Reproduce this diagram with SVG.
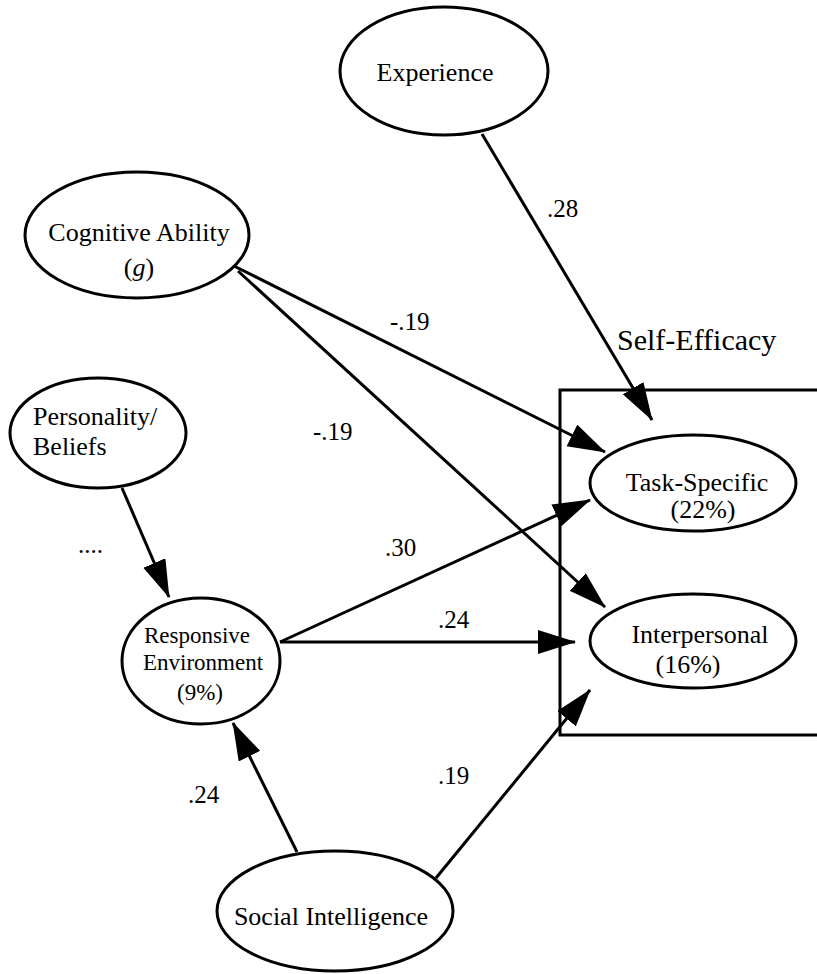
<svg xmlns="http://www.w3.org/2000/svg" width="817" height="974" viewBox="0 0 817 974">
  <style>
    .node { fill: #fff; stroke: #000; stroke-width: 3; }
    .box { fill: none; stroke: #000; stroke-width: 3; }
    .t { font-family: "Liberation Serif", "Times New Roman", serif; fill: #000; }
    .lbl { font-size: 26px; text-anchor: middle; }
    .sm { font-size: 23px; text-anchor: middle; }
    .coef { font-family: "Liberation Serif", "Times New Roman", serif; font-size: 25px; fill: #000; }
    .edge { stroke: #000; stroke-width: 3; fill: none; marker-end: url(#head); }
  </style>
  <defs>
    <marker id="head" markerUnits="userSpaceOnUse" markerWidth="40" markerHeight="26" refX="37" refY="12" orient="auto">
      <path d="M0,0 L38,12 L0,24 Z" fill="#000"/>
    </marker>
  </defs>

  <rect width="817" height="974" fill="#fff"/>

  <!-- Self-Efficacy grouping box -->
  <g id="self-efficacy">
    <rect class="box" x="560" y="390" width="270" height="345"/>
    <text class="t" x="617" y="350" font-size="30">Self-Efficacy</text>
  </g>

  <!-- connectors -->
  <g id="connectors">
    <line class="edge" x1="482" y1="134" x2="652" y2="420"/>
    <line class="edge" x1="234" y1="266" x2="605" y2="452"/>
    <line class="edge" x1="238" y1="271" x2="605" y2="607"/>
    <line class="edge" x1="122" y1="488" x2="169" y2="597"/>
    <line class="edge" x1="280" y1="642" x2="590" y2="500"/>
    <line class="edge" x1="280" y1="642" x2="575" y2="642"/>
    <line class="edge" x1="297" y1="852" x2="233" y2="723"/>
    <line class="edge" x1="436" y1="878" x2="590" y2="690"/>

    <text class="coef" x="547" y="217">.28</text>
    <text class="coef" x="390" y="330">-.19</text>
    <text class="coef" x="313" y="440">-.19</text>
    <text class="coef" x="385" y="556">.30</text>
    <text class="coef" x="438" y="628">.24</text>
    <text class="coef" x="438" y="784">.19</text>
    <text class="coef" x="188" y="803">.24</text>
    <text class="coef" x="78" y="553">....</text>
  </g>

  <g id="experience">
    <ellipse class="node" cx="444" cy="71" rx="104" ry="64"/>
    <text class="t lbl" x="435" y="81">Experience</text>
  </g>

  <g id="cognitive-ability">
    <ellipse class="node" cx="137" cy="235" rx="112" ry="63"/>
    <text class="t lbl" x="139" y="241">Cognitive Ability</text>
    <text class="t lbl" x="139" y="276">(<tspan font-style="italic">g</tspan>)</text>
  </g>

  <g id="personality-beliefs">
    <ellipse class="node" cx="98" cy="433" rx="88" ry="55"/>
    <text class="t" x="33" y="425" font-size="26">Personality/</text>
    <text class="t" x="33" y="455" font-size="26">Beliefs</text>
  </g>

  <g id="responsive-environment">
    <ellipse class="node" cx="201" cy="661" rx="79" ry="63"/>
    <text class="t sm" x="197" y="643">Responsive</text>
    <text class="t sm" x="203" y="670">Environment</text>
    <text class="t sm" x="200" y="700">(9%)</text>
  </g>

  <g id="task-specific">
    <ellipse class="node" cx="693" cy="483" rx="103" ry="48"/>
    <text class="t lbl" x="697" y="491">Task-Specific</text>
    <text class="t lbl" x="703" y="518">(22%)</text>
  </g>

  <g id="interpersonal">
    <ellipse class="node" cx="693" cy="641" rx="103" ry="47"/>
    <text class="t lbl" x="700" y="643">Interpersonal</text>
    <text class="t lbl" x="688" y="673">(16%)</text>
  </g>

  <g id="social-intelligence">
    <ellipse class="node" cx="335" cy="911" rx="118" ry="60"/>
    <text class="t lbl" x="331" y="925">Social Intelligence</text>
  </g>
</svg>
